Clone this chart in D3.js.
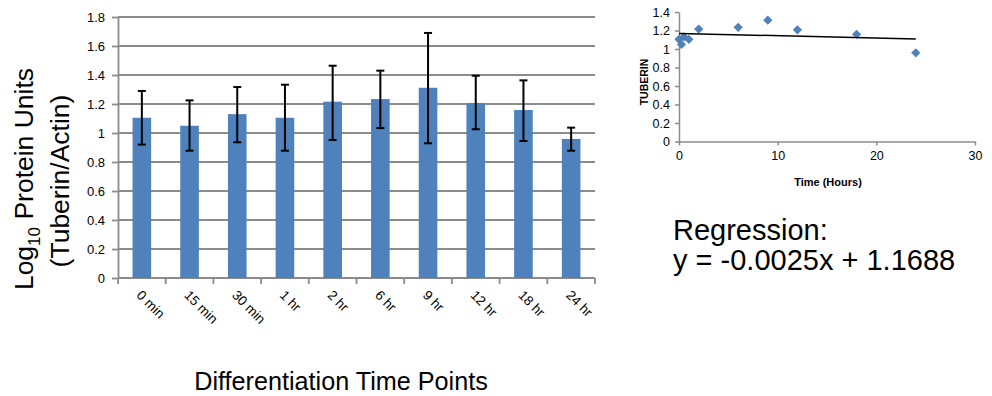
<!DOCTYPE html>
<html>
<head>
<meta charset="utf-8">
<script src="https://cdnjs.cloudflare.com/ajax/libs/d3/7.8.5/d3.min.js"></script>
<style>
  body { margin: 0; background: #fff; }
  text { font-family: "Liberation Sans", Arial, sans-serif; }
</style>
</head>
<body>
<div id="chart"></div>
<script>
// bar chart data
var categories = ["0 min", "15 min", "30 min", "1 hr", "2 hr", "6 hr", "9 hr", "12 hr", "18 hr", "24 hr"];
var means = [1.105, 1.05, 1.13, 1.105, 1.216, 1.234, 1.312, 1.207, 1.159, 0.959];
var errHigh = [1.29, 1.225, 1.317, 1.333, 1.464, 1.43, 1.69, 1.395, 1.363, 1.037];
var errLow = [0.92, 0.878, 0.936, 0.878, 0.952, 1.034, 0.929, 1.026, 0.945, 0.878];
var yTicks = [0, 0.2, 0.4, 0.6, 0.8, 1, 1.2, 1.4, 1.6, 1.8];

// scatter data
var hours = [0, 0.25, 0.5, 1, 2, 6, 9, 12, 18, 24];
var tuberin = [1.105, 1.05, 1.13, 1.105, 1.216, 1.234, 1.312, 1.207, 1.159, 0.959];
var sxTicks = [0, 10, 20, 30];
var syTicks = [0, 0.2, 0.4, 0.6, 0.8, 1, 1.2, 1.4];
var slope = -0.0025, intercept = 1.1688;

var blue = "#4f81bd";
var gridColor = "#8c8c8c";

var svg = d3.select("#chart").append("svg")
  .attr("width", 992)
  .attr("height", 396);

// ---------- bar chart ----------
var plotLeft = 118, plotRight = 595, plotTop = 17, plotBottom = 278;

var x = d3.scaleBand()
  .domain(categories)
  .range([plotLeft, plotRight])
  .paddingInner(0.61)
  .paddingOuter(0.305);

var y = d3.scaleLinear()
  .domain([0, 1.8])
  .range([plotBottom, plotTop]);

// gridlines
svg.append("g")
  .selectAll("line")
  .data(yTicks.slice(1))
  .enter().append("line")
  .attr("x1", plotLeft)
  .attr("x2", plotRight)
  .attr("y1", function(d){ return y(d); })
  .attr("y2", function(d){ return y(d); })
  .attr("stroke", gridColor)
  .attr("stroke-width", 1.8);

var yAxis = svg.append("g")
  .attr("transform", "translate(" + plotLeft + ",0)")
  .call(d3.axisLeft(y).tickValues(yTicks).tickSize(6).tickSizeOuter(0).tickFormat(d3.format("~g")));
yAxis.select(".domain").attr("stroke", gridColor).attr("stroke-width", 1.8);
yAxis.selectAll(".tick line").attr("stroke", gridColor).attr("stroke-width", 1.8);
yAxis.selectAll(".tick text")
  .attr("x", -13)
  .style("font-size", "13px")
  .attr("fill", "#000");

// bottom axis with ticks at band boundaries
var step = x.step();
var boundaries = d3.range(categories.length + 1).map(function(i){ return plotLeft + i * step; });
svg.append("line")
  .attr("x1", plotLeft).attr("x2", plotRight)
  .attr("y1", plotBottom).attr("y2", plotBottom)
  .attr("stroke", gridColor).attr("stroke-width", 1.8);
svg.append("g")
  .selectAll("line")
  .data(boundaries)
  .enter().append("line")
  .attr("x1", function(d){ return d; })
  .attr("x2", function(d){ return d; })
  .attr("y1", plotBottom)
  .attr("y2", plotBottom + 6)
  .attr("stroke", gridColor)
  .attr("stroke-width", 1.8);

// bars
svg.append("g")
  .selectAll("rect")
  .data(means)
  .enter().append("rect")
  .attr("x", function(d, i){ return x(categories[i]); })
  .attr("y", function(d){ return y(d); })
  .attr("width", x.bandwidth())
  .attr("height", function(d){ return plotBottom - y(d); })
  .attr("fill", blue);

// error bars
var eb = svg.append("g").attr("stroke", "#000").attr("stroke-width", 2);
categories.forEach(function(c, i){
  var cx = x(c) + x.bandwidth() / 2;
  eb.append("line").attr("x1", cx).attr("x2", cx)
    .attr("y1", y(errHigh[i])).attr("y2", y(errLow[i]));
  eb.append("line").attr("x1", cx - 4).attr("x2", cx + 4)
    .attr("y1", y(errHigh[i])).attr("y2", y(errHigh[i]));
  eb.append("line").attr("x1", cx - 4).attr("x2", cx + 4)
    .attr("y1", y(errLow[i])).attr("y2", y(errLow[i]));
});

// rotated category labels
svg.append("g")
  .selectAll("text")
  .data(categories)
  .enter().append("text")
  .attr("transform", function(d){
    return "translate(" + (x(d) + x.bandwidth() / 2 - 6) + "," + (plotBottom + 18) + ") rotate(45)";
  })
  .attr("text-anchor", "start")
  .style("font-size", "13.5px")
  .text(function(d){ return d; });

// axis titles
var yt = svg.append("text")
  .attr("transform", "translate(33,179) rotate(-90)")
  .attr("text-anchor", "middle")
  .style("font-size", "26.5px");
yt.append("tspan").text("Log");
yt.append("tspan").attr("dy", 7).style("font-size", "17px").text("10");
yt.append("tspan").attr("dy", -7).text(" Protein Units");

svg.append("text")
  .attr("transform", "translate(69,181) rotate(-90)")
  .attr("text-anchor", "middle")
  .style("font-size", "26.5px")
  .text("(Tuberin/Actin)");

svg.append("text")
  .attr("x", 341)
  .attr("y", 390)
  .attr("text-anchor", "middle")
  .style("font-size", "25.2px")
  .text("Differentiation Time Points");

// ---------- scatter ----------
var sx = d3.scaleLinear().domain([0, 30]).range([679, 975]);
var sy = d3.scaleLinear().domain([0, 1.4]).range([141.5, 12]);

var sxAxis = svg.append("g")
  .attr("transform", "translate(0," + sy(0) + ")")
  .call(d3.axisBottom(sx).tickValues(sxTicks).tickSize(4).tickSizeOuter(0));
sxAxis.select(".domain").attr("stroke", gridColor).attr("stroke-width", 1.5);
sxAxis.selectAll(".tick line").attr("stroke", gridColor).attr("stroke-width", 1.5);
sxAxis.selectAll(".tick text").attr("y", 10).style("font-size", "12.5px").attr("fill", "#000");

var syAxis = svg.append("g")
  .attr("transform", "translate(" + sx(0) + ",0)")
  .call(d3.axisLeft(sy).tickValues(syTicks).tickSize(4).tickSizeOuter(0).tickFormat(d3.format("~g")));
syAxis.select(".domain").attr("stroke", gridColor).attr("stroke-width", 1.5);
syAxis.selectAll(".tick line").attr("stroke", gridColor).attr("stroke-width", 1.5);
syAxis.selectAll(".tick text").attr("x", -9).style("font-size", "12.5px").attr("fill", "#000");

// points
svg.append("g")
  .selectAll("path")
  .data(hours)
  .enter().append("path")
  .attr("d", d3.symbol().type(d3.symbolDiamond2).size(55))
  .attr("transform", function(d, i){ return "translate(" + sx(d) + "," + sy(tuberin[i]) + ")"; })
  .attr("fill", blue);

// trend line
var xMax = d3.max(hours);
svg.append("line")
  .attr("x1", sx(0)).attr("y1", sy(intercept))
  .attr("x2", sx(xMax)).attr("y2", sy(intercept + slope * xMax))
  .attr("stroke", "#000")
  .attr("stroke-width", 1.5);

svg.append("text")
  .attr("transform", "translate(648,82) rotate(-90)")
  .attr("text-anchor", "middle")
  .style("font-size", "10.5px")
  .style("font-weight", "bold")
  .text("TUBERIN");

svg.append("text")
  .attr("x", 828)
  .attr("y", 186)
  .attr("text-anchor", "middle")
  .style("font-size", "11px")
  .style("font-weight", "bold")
  .text("Time (Hours)");

svg.append("text")
  .attr("x", 673).attr("y", 240)
  .style("font-size", "29px")
  .text("Regression:");
svg.append("text")
  .attr("x", 673).attr("y", 270)
  .style("font-size", "29px")
  .text("y = " + slope + "x + " + intercept);
</script>
</body>
</html>
